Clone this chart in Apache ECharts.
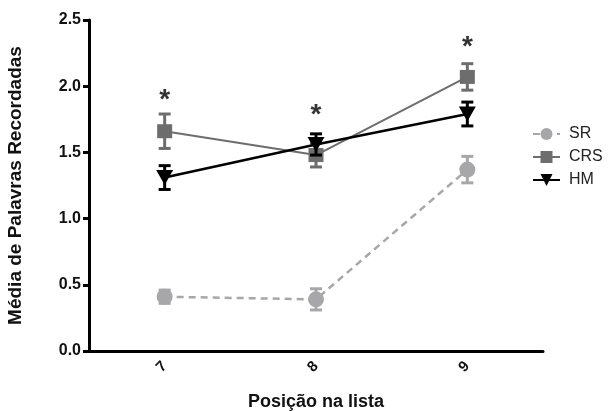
<!DOCTYPE html>
<html>
<head>
<meta charset="utf-8">
<script src="https://cdn.jsdelivr.net/npm/echarts@6/dist/echarts.min.js"></script>
<style>
  html, body { margin: 0; padding: 0; background: #fff; }
  #chart { width: 609px; height: 411px; }
</style>
</head>
<body>
<div id="chart"></div>
<script>
// posições na lista
var cats = ['7', '8', '9'];
// médias e erros
var srMean = [0.41, 0.39, 1.37];
var srErr = [0.05, 0.08, 0.10];
var crsMean = [1.66, 1.48, 2.07];
var crsErr = [0.13, 0.09, 0.10];
var hmMean = [1.31, 1.56, 1.79];
var hmErr = [0.09, 0.08, 0.09];
// asteriscos de significância
var starY = [1.93, 1.82, 2.33];

var font = '"Liberation Sans", Arial, sans-serif';
var cSR = '#a7a7a9', cCRS = '#6d6d6d', cHM = '#000000';

function errData(mean, err) {
  return mean.map(function (m, i) { return [i, m - err[i], m + err[i]]; });
}

function errSeries(mean, err, color, z) {
  return {
    type: 'custom',
    z: z,
    silent: true,
    renderItem: function (params, api) {
      var lo = api.coord([api.value(0), api.value(1)]);
      var hi = api.coord([api.value(0), api.value(2)]);
      var w = 6;
      var st = { stroke: color, lineWidth: 3 };
      return {
        type: 'group',
        children: [
          { type: 'line', shape: { x1: hi[0], y1: hi[1], x2: lo[0], y2: lo[1] }, style: st },
          { type: 'line', shape: { x1: hi[0] - w, y1: hi[1], x2: hi[0] + w, y2: hi[1] }, style: st },
          { type: 'line', shape: { x1: lo[0] - w, y1: lo[1], x2: lo[0] + w, y2: lo[1] }, style: st }
        ]
      };
    },
    data: errData(mean, err)
  };
}

var chart = echarts.init(document.getElementById('chart'));
var option = {
  animation: false,
  backgroundColor: '#fff',
  grid: { left: 89, right: 66, top: 20, bottom: 60, outerBoundsMode: 'none', containLabel: false },
  legend: {
    orient: 'vertical',
    left: 527,
    top: 121,
    itemGap: 7,
    itemWidth: 27,
    itemHeight: 15,
    textStyle: { fontFamily: font, fontSize: 16, color: '#222', padding: [0, 0, 0, 4] },
    data: ['SR', 'CRS', 'HM']
  },
  xAxis: {
    type: 'category',
    data: cats,
    boundaryGap: true,
    name: 'Posição na lista',
    nameLocation: 'middle',
    nameGap: 42,
    nameTextStyle: { fontFamily: font, fontSize: 18, fontWeight: 'bold', color: '#111' },
    axisLine: { lineStyle: { color: '#000', width: 3 } },
    axisTick: { alignWithLabel: true, length: 6, lineStyle: { color: '#000', width: 3 } },
    axisLabel: { rotate: 45, fontFamily: font, fontSize: 15, fontWeight: 'bold', color: '#111', margin: 13 }
  },
  yAxis: {
    type: 'value',
    min: 0,
    max: 2.5,
    interval: 0.5,
    name: 'Média de Palavras Recordadas',
    nameLocation: 'middle',
    nameGap: 64,
    nameTextStyle: { fontFamily: font, fontSize: 19, fontWeight: 'bold', color: '#111' },
    axisLine: { show: true, lineStyle: { color: '#000', width: 3 } },
    axisTick: { show: true, length: 6, lineStyle: { color: '#000', width: 3 } },
    splitLine: { show: false },
    axisLabel: {
      fontFamily: font, fontSize: 16, fontWeight: 'bold', color: '#111', margin: 8,
      formatter: function (v) { return v.toFixed(1); }
    }
  },
  series: [
    errSeries(srMean, srErr, cSR, 2),
    {
      name: 'SR', type: 'line', z: 3, data: srMean,
      symbol: 'circle', symbolSize: 16,
      itemStyle: { color: cSR },
      lineStyle: { color: cSR, width: 2.5, type: [7, 5] }
    },
    errSeries(crsMean, crsErr, cCRS, 4),
    {
      name: 'CRS', type: 'line', z: 5, data: crsMean,
      symbol: 'rect', symbolSize: [15, 14],
      itemStyle: { color: cCRS },
      lineStyle: { color: cCRS, width: 2 }
    },
    errSeries(hmMean, hmErr, cHM, 6),
    {
      name: 'HM', type: 'line', z: 7, data: hmMean,
      symbol: 'triangle', symbolSize: [17, 15], symbolRotate: 180,
      itemStyle: { color: cHM },
      lineStyle: { color: cHM, width: 2.5 }
    },
    {
      type: 'scatter', z: 8, silent: true,
      symbolSize: 0,
      data: starY,
      label: {
        show: true, position: 'inside', formatter: '*',
        fontFamily: font, fontSize: 28, fontWeight: 'bold', color: '#000',
        offset: [0, 5]
      }
    }
  ]
};
chart.setOption(option);
</script>
</body>
</html>
